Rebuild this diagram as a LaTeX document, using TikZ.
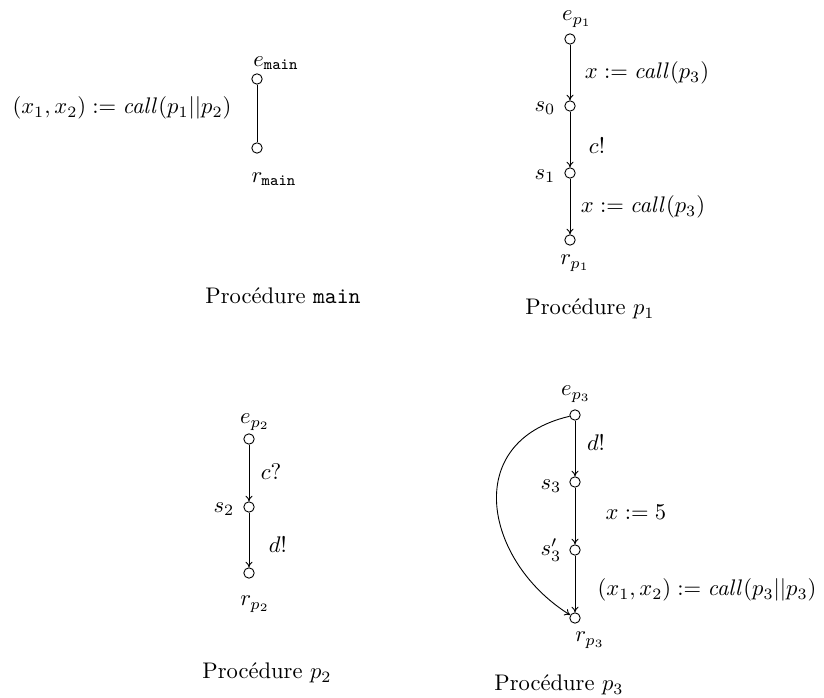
\documentclass[tikz,border=0pt]{standalone}
\usetikzlibrary{arrows.meta}
\begin{document}
\begin{tikzpicture}[x=0.443pt,y=-0.443pt,
  st/.style={circle,draw,inner sep=0pt,minimum size=4.6pt,line width=0.4pt},
  tr/.style={line width=0.4pt,-{To[length=2.5pt,width=3.2pt]}},
  lb/.style={inner sep=0pt}]
\useasboundingbox (0,0) rectangle (824,698);
% ---- main
\node[st] (em) at (257,79) {};
\node[st] (rm) at (257,148) {};
\node[lb] (lem) at (276,63) {$e_{\mathtt{main}}$};
\node[lb] (lrm) at (274,179) {$r_{\mathtt{main}}$};
\node[lb] (tm) at (122,108) {$(x_1,x_2) := \mathit{call}(p_1||p_2)$};
\draw[line width=0.4pt] (em) -- (rm);
\node[lb] (cm) at (283,296) {Proc\'edure \texttt{main}};
% ---- p1
\node[st] (ep1) at (570,39) {};
\node[st] (s0) at (570,106) {};
\node[st] (s1) at (570,173) {};
\node[st] (rp1) at (570,240) {};
\node[lb] (lep1) at (577,19) {$e_{p_1}$};
\node[lb] (ls0) at (545,108) {$s_0$};
\node[lb] (ls1) at (545,176) {$s_1$};
\node[lb] (lrp1) at (575,263) {$r_{p_1}$};
\draw[tr] (ep1) -- (s0);
\draw[tr] (s0) -- (s1);
\draw[tr] (s1) -- (rp1);
\node[lb] (t1) at (647,73) {$x := \mathit{call}(p_3)$};
\node[lb] (t2) at (597,146) {$c!$};
\node[lb] (t3) at (643,207) {$x := \mathit{call}(p_3)$};
\node[lb] (cp1) at (590,309) {Proc\'edure $p_1$};
% ---- p2
\node[st] (ep2) at (249,439) {};
\node[st] (s2) at (249,507) {};
\node[st] (rp2) at (249,573) {};
\node[lb] (lep2) at (255,422) {$e_{p_2}$};
\node[lb] (ls2) at (224,509) {$s_2$};
\node[lb] (lrp2) at (255,604) {$r_{p_2}$};
\draw[tr] (ep2) -- (s2);
\draw[tr] (s2) -- (rp2);
\node[lb] (t4) at (271,472) {$c?$};
\node[lb] (t5) at (278,545) {$d!$};
\node[lb] (cp2) at (267,673) {Proc\'edure $p_2$};
% ---- p3
\node[st] (ep3) at (575,415) {};
\node[st] (s3) at (575,482) {};
\node[st] (s3p) at (575,550) {};
\node[st] (rp3) at (575,618) {};
\node[lb] (lep3) at (576,394) {$e_{p_3}$};
\node[lb] (ls3) at (551,486) {$s_3$};
\node[lb] (ls3p) at (551,550) {$s_3'$};
\node[lb] (lrp3) at (590,640) {$r_{p_3}$};
\draw[tr] (ep3) -- (s3);
\draw[tr] (s3) -- (s3p);
\draw[tr] (s3p) -- (rp3);
\draw[tr] (ep3) .. controls (460,442) and (485,562) .. (rp3);
\node[lb] (t6) at (596,443) {$d!$};
\node[lb] (t7) at (636,512) {$x := 5$};
\node[lb] (t8) at (707,590) {$(x_1,x_2) := \mathit{call}(p_3||p_3)$};
\node[lb] (cp3) at (559,685) {Proc\'edure $p_3$};
\end{tikzpicture}
\end{document}
